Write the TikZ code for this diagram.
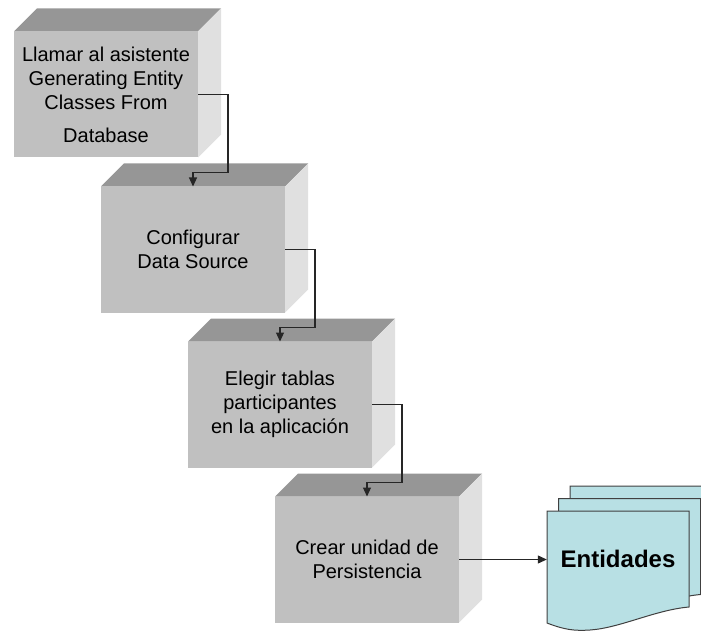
\documentclass[tikz,border=0pt]{standalone}
\usepackage{fontspec}
\setmainfont{Liberation Sans}
\usepackage{tikz}
\usetikzlibrary{arrows.meta,calc,positioning}
\definecolor{cajafrente}{RGB}{192,192,192}
\definecolor{cajatecho}{RGB}{150,150,150}
\definecolor{cajalado}{RGB}{224,224,224}
\definecolor{hojafondo}{RGB}{184,224,228}
\definecolor{hojaborde}{RGB}{64,64,64}
\newcommand{\cajaprof}{23}
\tikzset{
	caja/.style={
		fill=cajafrente, minimum width=184pt, minimum height=126pt,
		inner sep=0pt, outer sep=0pt, align=center,
		font=\fontsize{20}{24}\selectfont,
		prefix after command={\pgfextra{\let\fixname\tikzlastnode}},
		append after command={\pgfextra{
			\fill[cajatecho] (\fixname.north west) -- ++(\cajaprof,\cajaprof)
				-- ($(\fixname.north east)+(\cajaprof,\cajaprof)$) -- (\fixname.north east) -- cycle;
			\fill[cajalado] (\fixname.north east) -- ++(\cajaprof,\cajaprof)
				-- ($(\fixname.south east)+(\cajaprof,\cajaprof)$) -- (\fixname.south east) -- cycle;
		}}},
	flecha/.style={-{Triangle[length=9pt,width=8pt]}, line width=1.2pt, draw=black!85},
	hoja/.style={fill=hojafondo, draw=hojaborde, line width=1pt}
}
% one sheet of the stack, #1 = top left corner
\newcommand{\hoja}[1]{%
	\filldraw[hoja, shift={#1}] (0,0) -- (0,-112)
		.. controls (18,-119) and (28,-120) .. (43,-119)
		.. controls (73,-117) and (108,-99) .. (142,-96) -- (142,0) -- cycle;}

\begin{document}
\begin{tikzpicture}[x=1pt,y=1pt,node distance=29pt]
	\useasboundingbox (0,0) rectangle (701,630);
	\node [caja] (b1) at (106,535.5) {Llamar al asistente\\Generating Entity\\Classes From\\[9pt]Database};
	\node [caja, below=of b1, xshift=87pt] (b2) {Configurar\\Data Source};
	\node [caja, below=of b2, xshift=87pt] (b3) {Elegir tablas\\participantes\\en la aplicación};
	\node [caja, below=of b3, xshift=87pt] (b4) {Crear unidad de\\Persistencia};
	% stack of sheets
	\hoja{(570,144)}
	\hoja{(558.5,131.5)}
	\hoja{(547,119)}
	\node [minimum width=142pt, inner sep=0pt, font=\fontsize{24}{28}\selectfont\bfseries] (ent) at (618,71) {Entidades};
	\foreach \a/\b in {b1/b2,b2/b3,b3/b4}
		\draw [flecha] (\a.east) -- ++(30,0) |- ($(\b.north)+(0,14)$) -- (\b.north);
	\draw [flecha] (b4.east) -- (b4.east -| ent.west);
\end{tikzpicture}
\end{document}
